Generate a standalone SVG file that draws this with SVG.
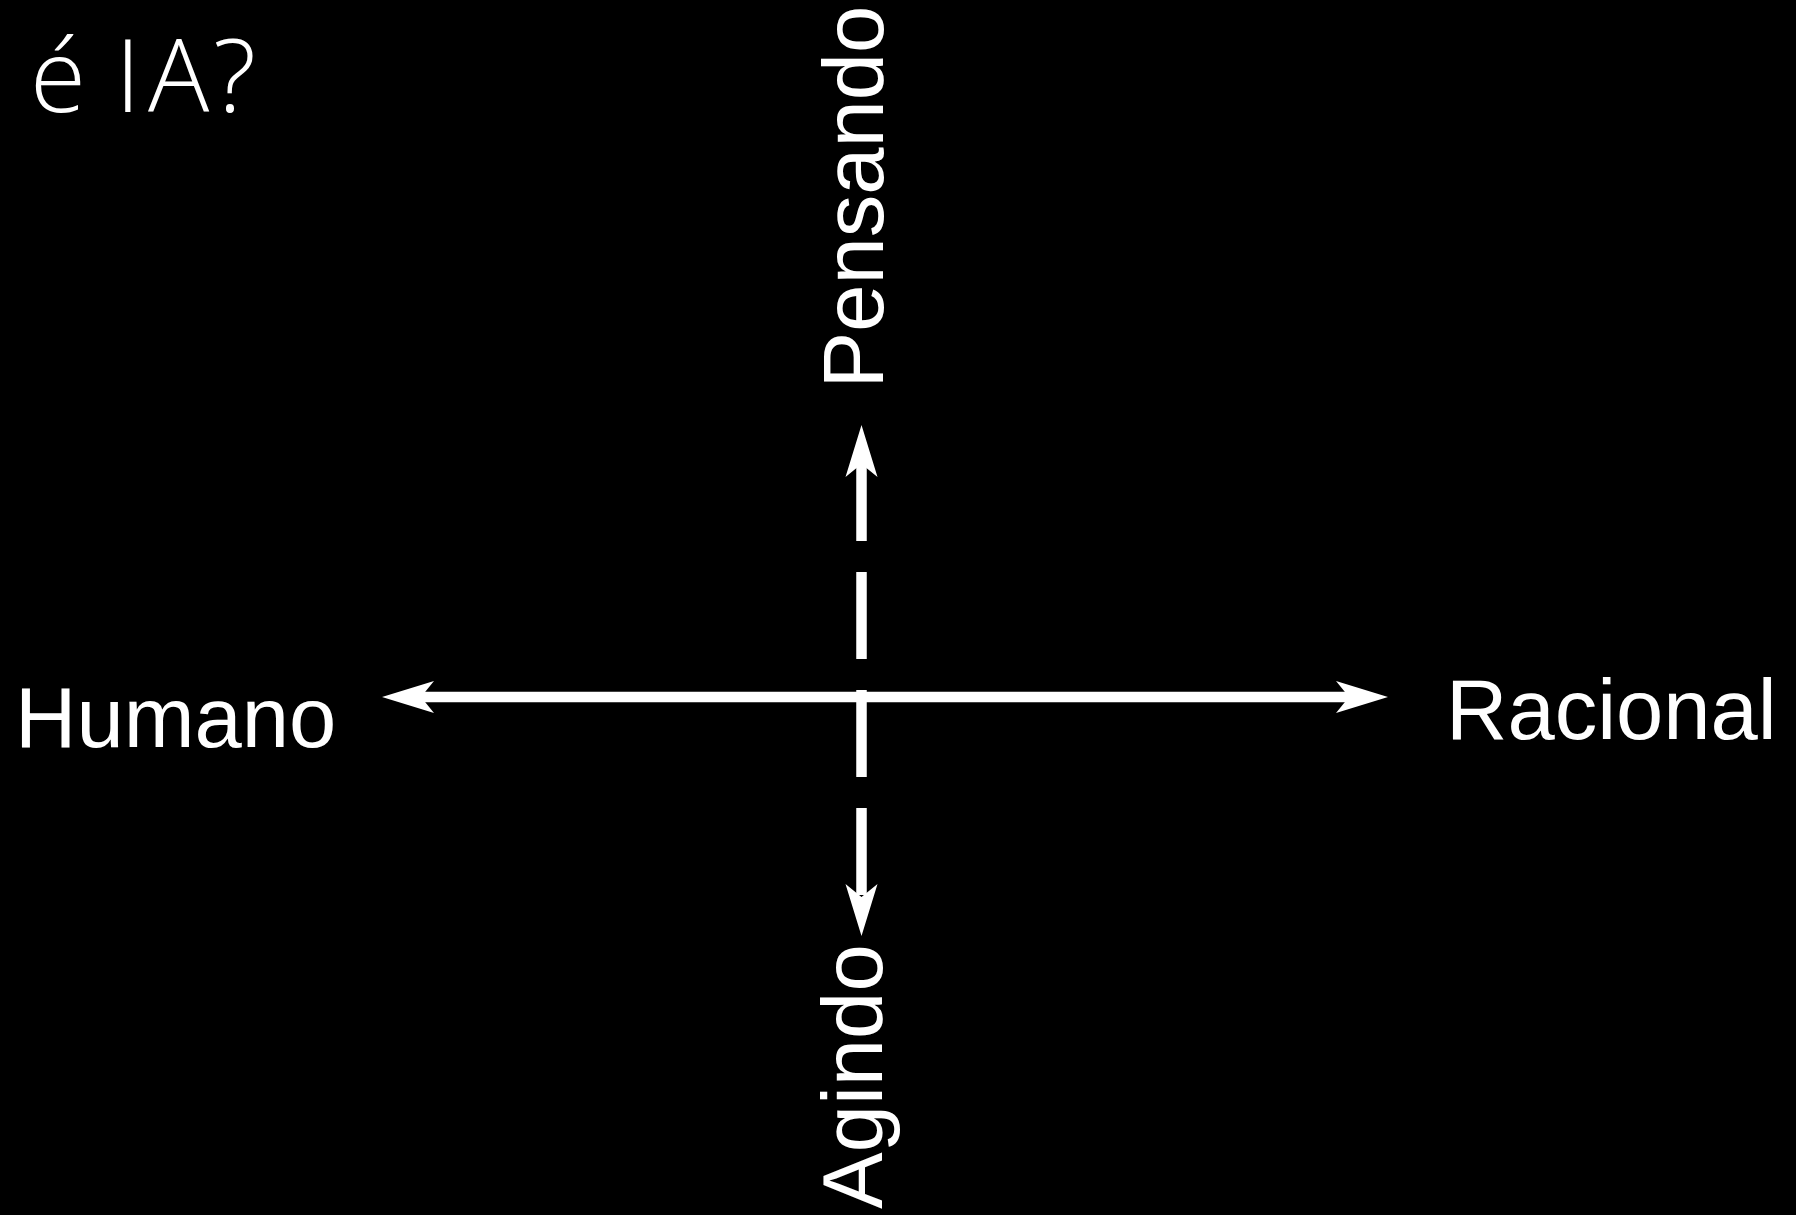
<svg xmlns="http://www.w3.org/2000/svg" xmlns:xlink="http://www.w3.org/1999/xlink" width="1796" height="1215" viewBox="0 0 1796 1215">
  <style>
    .lbl { font-family: "Liberation Sans", Arial, sans-serif; font-size: 85px; fill: #ffffff; }
    .title { font-family: "Open Sans", "Noto Sans", sans-serif; font-weight: 300; font-size: 102px; fill: #ffffff; }
    .axis { stroke: #ffffff; fill: none; stroke-width: 10.5; }
    .head { fill: #ffffff; stroke: none; }
  </style>
  <defs>
    <path id="ah" class="head" d="M0,0 L-52,-16 L-39,0 L-52,16 Z"/>
  </defs>
  <rect width="1796" height="1215" fill="#000000"/>
  <g id="title">
    <text class="title" y="112"><tspan x="30">é</tspan><tspan x="115">I</tspan><tspan x="148">A</tspan><tspan x="213">?</tspan></text>
  </g>
  <g id="connectors">
    <line class="axis" x1="421" y1="697" x2="1349" y2="697"/>
    <line class="axis" x1="861.5" y1="895" x2="861.5" y2="455" stroke-dasharray="87 31"/>
    <use xlink:href="#ah" transform="translate(382,697) rotate(180)"/>
    <use xlink:href="#ah" transform="translate(1388,697)"/>
    <use xlink:href="#ah" transform="translate(861.5,425) rotate(-90)"/>
    <use xlink:href="#ah" transform="translate(861.5,936) rotate(90)"/>
  </g>
  <g id="node-humano">
    <text class="lbl" x="15" y="747">Humano</text>
  </g>
  <g id="node-racional">
    <text class="lbl" x="1446" y="739">Racional</text>
  </g>
  <g id="node-pensando">
    <text class="lbl" transform="translate(883,388.5) rotate(-90)">Pensando</text>
  </g>
  <g id="node-agindo">
    <text class="lbl" transform="translate(882,1209) rotate(-90)">Agindo</text>
  </g>
</svg>
